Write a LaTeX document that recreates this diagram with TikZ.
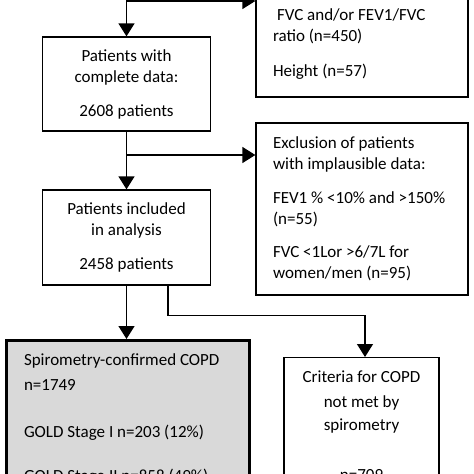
\documentclass[tikz,border=0pt]{standalone}
\usepackage{fontspec}
\setmainfont{Carlito}
\usetikzlibrary{positioning, arrows.meta}

\begin{document}
\begin{tikzpicture}[x=1pt, y=-1pt, line width=1.3pt,
  every node/.style={font=\fontsize{17}{21}\selectfont},
  flowbox/.style={draw, rectangle, line width=1.3pt, align=center, inner sep=0pt},
  sidebox/.style={draw, rectangle, line width=1.3pt, align=flush left, inner xsep=17pt, inner ysep=0pt},
  arr/.style={-{Triangle[width=16pt, length=13pt]}, line width=1.3pt}]
\useasboundingbox (0,0) rectangle (474,474);
\clip (0,0) rectangle (474,474);

% Left column
\node[flowbox, minimum width=168pt, minimum height=94pt] (complete) at (126.5,84) {Patients with\\complete data:\\[13pt]2608 patients};
\node[flowbox, minimum width=168pt, minimum height=95pt] (included) at (126.5,237.5) {Patients included\\in analysis\\[13pt]2458 patients};
\node[flowbox, anchor=north, fill=gray!30, line width=3pt, align=flush left, text width=207pt, inner xsep=18pt, inner ysep=13pt] (copd) at (127.5,339) {Spirometry-confirmed COPD\\[4pt]n=1749\\[26pt]GOLD Stage I n=203 (12\%)\\[23pt]GOLD Stage II n=858 (49\%)};

% Right column
\node[sidebox, text width=178pt, minimum height=105pt] (missing) at (362,44.5) {\hspace*{4pt}FVC and/or FEV1/FVC\\ratio (n=450)\\[14pt]Height (n=57)};
\node[sidebox, text width=178pt, minimum height=172pt] (implausible) at (362,209) {Exclusion of patients\\with implausible data:\\[13pt]FEV1 \% <10\% and >150\%\\(n=55)\\[12pt]FVC <1Lor >6/7L for\\women/men (n=95)};
\node[flowbox, anchor=north, minimum width=155pt, inner ysep=13pt] (notmet) at (361.5,357) {Criteria for COPD\\[4pt]not met by\\[2pt]spirometry\\[29pt]n=709};

% Connectors
\coordinate (feed) at (126.5,-30);
\coordinate (split1) at (126.5,1);
\coordinate (split2) at (126.5,155);
\draw[arr] (feed) -- (feed |- complete.north);
\draw[arr] (split1) -- (split1 -| missing.west);
\draw[arr] (complete) -- (included);
\draw[arr] (split2) -- (split2 -| implausible.west);
\draw[arr] (included.south) -- (included.south |- copd.north);
\draw[arr] ([xshift=41.5pt]included.south) -- ++(0,30) -| ([xshift=3.5pt]notmet.north);
\end{tikzpicture}
\end{document}
